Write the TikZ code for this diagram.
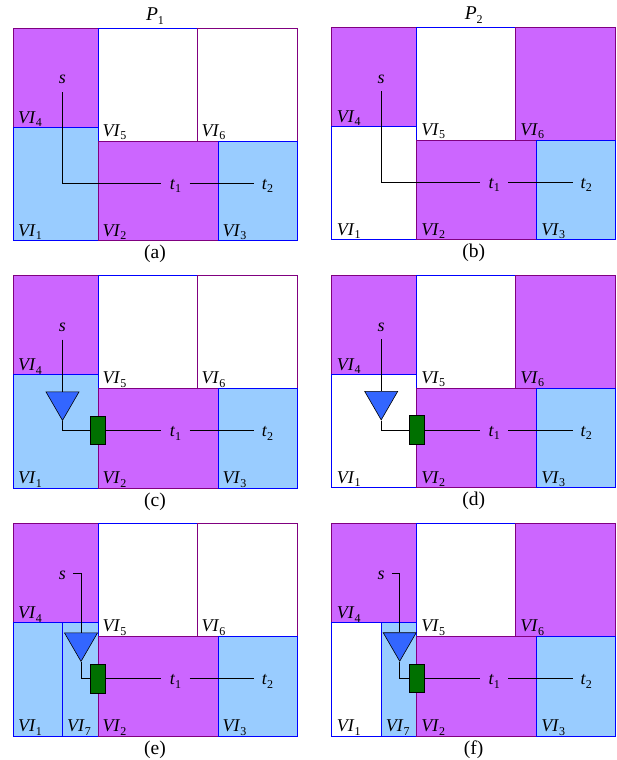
\documentclass[tikz,border=0pt]{standalone}
\usepackage{fontspec}
\setmainfont{Liberation Serif}
\usetikzlibrary{shapes.geometric}
\definecolor{pur}{HTML}{CC66FF}
\definecolor{purline}{HTML}{800080}
\definecolor{blu}{HTML}{99CCFF}
\definecolor{bluline}{HTML}{0000FF}
\definecolor{ampfill}{HTML}{3366FF}
\definecolor{buffill}{HTML}{007000}
\tikzset{
  pbox/.style={fill=pur,draw=purline,line width=0.9pt},
  bbox/.style={fill=blu,draw=bluline,line width=0.9pt},
  wbox/.style={fill=white,draw=bluline,line width=0.9pt},
  wpbox/.style={fill=white,draw=purline,line width=0.9pt},
  vilabel/.style={anchor=base west,inner sep=0pt,font=\fontsize{18}{18}\selectfont},
  term/.style={inner sep=0pt,text height=12pt,text depth=0pt,font=\fontsize{18}{18}\selectfont},
  caption/.style={inner sep=0pt,font=\fontsize{19.5}{19.5}\selectfont},
  wire/.style={draw=black,line width=0.8pt},
  ampshape/.style={draw=black,fill=ampfill,line width=0.6pt,isosceles triangle,isosceles triangle stretches,shape border rotate=-90,minimum width=33pt,minimum height=28.5pt,inner sep=0pt,anchor=apex},
  bufshape/.style={draw=black,fill=buffill,line width=0.6pt,minimum width=14.5pt,minimum height=28.5pt,inner sep=0pt}
}
\newcommand{\subs}[2]{\textit{#1}\raisebox{-0.22em}{\fontsize{12}{12}\selectfont #2}}
% #1 name, #2 x, #3 y, #4 VI1 style, #5 VI6 style, #6 stage, #7 caption, #8 heading
\newcommand{\panel}[8]{%
\begin{scope}[shift={(#2,#3)}]
  \draw[pbox] (0,0) rectangle (85,99);
  \draw[wbox] (85,0) rectangle (184,113);
  \draw[#5] (184,0) rectangle (284,113);
  \draw[#4] (0,99) rectangle (85,212.5);
  \ifnum#6=2
    \draw[bbox] (49.5,99) rectangle (85,212.5);
    \node[vilabel] (#1v7) at (54,208) {\subs{VI}{7}};
  \fi
  \draw[pbox] (85,113) rectangle (205,212.5);
  \draw[bbox] (205,113) rectangle (284,212.5);
  \node[vilabel] (#1v4) at (5,95) {\subs{VI}{4}};
  \node[vilabel] (#1v5) at (89.5,108) {\subs{VI}{5}};
  \node[vilabel] (#1v6) at (188.5,108) {\subs{VI}{6}};
  \node[vilabel] (#1v1) at (5,208) {\subs{VI}{1}};
  \node[vilabel] (#1v2) at (89.5,208) {\subs{VI}{2}};
  \node[vilabel] (#1v3) at (209.5,208) {\subs{VI}{3}};
  \node[term,minimum height=28pt,minimum width=21pt] (#1s) at (49.5,50) {\textit{s}};
  \node[term,minimum width=28pt] (#1t1) at (162.5,155) {\subs{t}{1}};
  \node[term,minimum width=27pt] (#1t2) at (254.5,155) {\subs{t}{2}};
  \node[caption] (#1cap) at (142,226) {(#7)};
  \ifx\relax#8\relax\else
    \node[caption] (#1head) at (142,-12) {\subs{P}{#8}};
  \fi
  \ifcase#6
    \draw[wire] (#1s.south) |- (#1t1.west);
  \or
    \node[ampshape] (#1amp) at (49.5,145.7) {};
    \node[bufshape] (#1buf) at (85,155) {};
    \draw[wire] (#1s.south) -- (#1s.south |- #1amp.lower side);
    \draw[wire] (#1amp.apex) |- (#1buf.west);
    \draw[wire] (#1buf.east) -- (#1t1.west);
  \or
    \node[ampshape] (#1amp) at (68,138.5) {};
    \node[bufshape] (#1buf) at (85,155) {};
    \draw[wire] (#1s.east) -| (#1amp.lower side);
    \draw[wire] (#1amp.apex) |- (#1buf.west);
    \draw[wire] (#1buf.east) -- (#1t1.west);
  \fi
  \draw[wire] (#1t1.east) -- (#1t2.west);
\end{scope}}
\begin{document}
\begin{tikzpicture}[x=1pt,y=-1pt]
  \useasboundingbox (0,0) rectangle (617,760);
  \fill[white] (0,0) rectangle (617,760);
  \panel{a}{13}{28}{bbox}{wpbox}{0}{a}{1}
  \panel{b}{331.7}{27}{wbox}{pbox}{0}{b}{2}
  \panel{c}{13}{275.5}{bbox}{wpbox}{1}{c}{}
  \panel{d}{331.7}{275}{wbox}{pbox}{1}{d}{}
  \panel{e}{13}{523.7}{bbox}{wpbox}{2}{e}{}
  \panel{f}{331.7}{523.5}{wbox}{pbox}{2}{f}{}
\end{tikzpicture}
\end{document}
